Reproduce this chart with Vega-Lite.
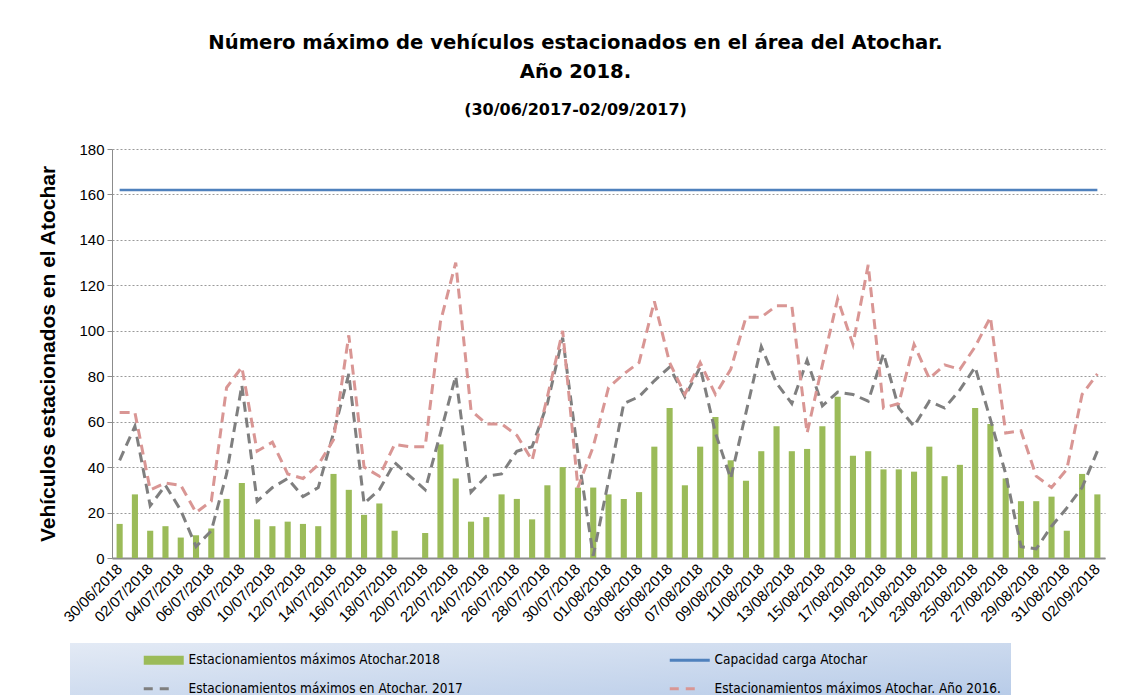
{
  "$schema": "https://vega.github.io/schema/vega-lite/v6.json",
  "width": 993,
  "height": 409,
  "autosize": {"type": "none"},
  "padding": {"left": 112, "top": 149, "right": 23, "bottom": 137},
  "background": "white",
  "config": {
    "view": {"stroke": null},
    "font": "Liberation Sans"
  },
  "title": {
    "text": ["Número máximo de vehículos estacionados  en el área del Atochar.", "Año 2018."],
    "subtitle": "(30/06/2017-02/09/2017)",
    "anchor": "middle",
    "dx": -33,
    "font": "DejaVu Sans",
    "fontSize": 19.6,
    "fontWeight": "bold",
    "lineHeight": 29,
    "color": "#000000",
    "subtitleFont": "DejaVu Sans",
    "subtitleFontSize": 16,
    "subtitleFontWeight": "bold",
    "subtitleColor": "#000000",
    "subtitlePadding": 19,
    "offset": 23
  },
  "data": {
    "values": [
      {"fecha": "30/06/2018", "v18": 15, "v17": 43, "v16": 64},
      {"fecha": "01/07/2018", "v18": 28, "v17": 58, "v16": 64},
      {"fecha": "02/07/2018", "v18": 12, "v17": 23, "v16": 30},
      {"fecha": "03/07/2018", "v18": 14, "v17": 32, "v16": 33},
      {"fecha": "04/07/2018", "v18": 9, "v17": 21, "v16": 32},
      {"fecha": "05/07/2018", "v18": 10, "v17": 5, "v16": 20},
      {"fecha": "06/07/2018", "v18": 13, "v17": 12, "v16": 25},
      {"fecha": "07/07/2018", "v18": 26, "v17": 37, "v16": 75},
      {"fecha": "08/07/2018", "v18": 33, "v17": 76, "v16": 84},
      {"fecha": "09/07/2018", "v18": 17, "v17": 25, "v16": 47},
      {"fecha": "10/07/2018", "v18": 14, "v17": 31, "v16": 51},
      {"fecha": "11/07/2018", "v18": 16, "v17": 35, "v16": 37},
      {"fecha": "12/07/2018", "v18": 15, "v17": 27, "v16": 35},
      {"fecha": "13/07/2018", "v18": 14, "v17": 31, "v16": 41},
      {"fecha": "14/07/2018", "v18": 37, "v17": 55, "v16": 52},
      {"fecha": "15/07/2018", "v18": 30, "v17": 81, "v16": 98},
      {"fecha": "16/07/2018", "v18": 19, "v17": 24, "v16": 40},
      {"fecha": "17/07/2018", "v18": 24, "v17": 30, "v16": 36},
      {"fecha": "18/07/2018", "v18": 12, "v17": 42, "v16": 50},
      {"fecha": "19/07/2018", "v18": null, "v17": 36, "v16": 49},
      {"fecha": "20/07/2018", "v18": 11, "v17": 30, "v16": 49},
      {"fecha": "21/07/2018", "v18": 50, "v17": 55, "v16": 104},
      {"fecha": "22/07/2018", "v18": 35, "v17": 80, "v16": 130},
      {"fecha": "23/07/2018", "v18": 16, "v17": 29, "v16": 65},
      {"fecha": "24/07/2018", "v18": 18, "v17": 36, "v16": 59},
      {"fecha": "25/07/2018", "v18": 28, "v17": 37, "v16": 59},
      {"fecha": "26/07/2018", "v18": 26, "v17": 47, "v16": 54},
      {"fecha": "27/07/2018", "v18": 17, "v17": 49, "v16": 43},
      {"fecha": "28/07/2018", "v18": 32, "v17": 68, "v16": 71},
      {"fecha": "29/07/2018", "v18": 40, "v17": 97, "v16": 100},
      {"fecha": "30/07/2018", "v18": 31, "v17": 46, "v16": 31},
      {"fecha": "31/07/2018", "v18": 31, "v17": 1, "v16": 49},
      {"fecha": "01/08/2018", "v18": 28, "v17": 34, "v16": 75},
      {"fecha": "02/08/2018", "v18": 26, "v17": 68, "v16": 81},
      {"fecha": "03/08/2018", "v18": 29, "v17": 71, "v16": 86},
      {"fecha": "04/08/2018", "v18": 49, "v17": 78, "v16": 113},
      {"fecha": "05/08/2018", "v18": 66, "v17": 84, "v16": 86},
      {"fecha": "06/08/2018", "v18": 32, "v17": 71, "v16": 72},
      {"fecha": "07/08/2018", "v18": 49, "v17": 84, "v16": 86},
      {"fecha": "08/08/2018", "v18": 62, "v17": 55, "v16": 72},
      {"fecha": "09/08/2018", "v18": 43, "v17": 35, "v16": 83},
      {"fecha": "10/08/2018", "v18": 34, "v17": 64, "v16": 106},
      {"fecha": "11/08/2018", "v18": 47, "v17": 93, "v16": 106},
      {"fecha": "12/08/2018", "v18": 58, "v17": 77, "v16": 111},
      {"fecha": "13/08/2018", "v18": 47, "v17": 68, "v16": 111},
      {"fecha": "14/08/2018", "v18": 48, "v17": 87, "v16": 55},
      {"fecha": "15/08/2018", "v18": 58, "v17": 67, "v16": 85},
      {"fecha": "16/08/2018", "v18": 71, "v17": 73, "v16": 114},
      {"fecha": "17/08/2018", "v18": 45, "v17": 72, "v16": 94},
      {"fecha": "18/08/2018", "v18": 47, "v17": 69, "v16": 129},
      {"fecha": "19/08/2018", "v18": 39, "v17": 90, "v16": 66},
      {"fecha": "20/08/2018", "v18": 39, "v17": 66, "v16": 68},
      {"fecha": "21/08/2018", "v18": 38, "v17": 58, "v16": 94},
      {"fecha": "22/08/2018", "v18": 49, "v17": 69, "v16": 79},
      {"fecha": "23/08/2018", "v18": 36, "v17": 66, "v16": 85},
      {"fecha": "24/08/2018", "v18": 41, "v17": 74, "v16": 83},
      {"fecha": "25/08/2018", "v18": 66, "v17": 84, "v16": 93},
      {"fecha": "26/08/2018", "v18": 59, "v17": 61, "v16": 106},
      {"fecha": "27/08/2018", "v18": 35, "v17": 37, "v16": 55},
      {"fecha": "28/08/2018", "v18": 25, "v17": 5, "v16": 56},
      {"fecha": "29/08/2018", "v18": 25, "v17": 4, "v16": 36},
      {"fecha": "30/08/2018", "v18": 27, "v17": 14, "v16": 31},
      {"fecha": "31/08/2018", "v18": 12, "v17": 22, "v16": 39},
      {"fecha": "01/09/2018", "v18": 37, "v17": 31, "v16": 72},
      {"fecha": "02/09/2018", "v18": 28, "v17": 47, "v16": 81}
    ]
  },
  "layer": [
    {
      "mark": {"type": "bar", "color": "#9BBB59"},
      "encoding": {
        "x": {
          "field": "fecha",
          "type": "ordinal",
          "sort": null,
          "title": null,
          "scale": {
            "domain": ["30/06/2018","01/07/2018","02/07/2018","03/07/2018","04/07/2018","05/07/2018","06/07/2018","07/07/2018","08/07/2018","09/07/2018","10/07/2018","11/07/2018","12/07/2018","13/07/2018","14/07/2018","15/07/2018","16/07/2018","17/07/2018","18/07/2018","19/07/2018","20/07/2018","21/07/2018","22/07/2018","23/07/2018","24/07/2018","25/07/2018","26/07/2018","27/07/2018","28/07/2018","29/07/2018","30/07/2018","31/07/2018","01/08/2018","02/08/2018","03/08/2018","04/08/2018","05/08/2018","06/08/2018","07/08/2018","08/08/2018","09/08/2018","10/08/2018","11/08/2018","12/08/2018","13/08/2018","14/08/2018","15/08/2018","16/08/2018","17/08/2018","18/08/2018","19/08/2018","20/08/2018","21/08/2018","22/08/2018","23/08/2018","24/08/2018","25/08/2018","26/08/2018","27/08/2018","28/08/2018","29/08/2018","30/08/2018","31/08/2018","01/09/2018","02/09/2018"],
            "paddingInner": 0.6,
            "paddingOuter": 0.3
          },
          "axis": {
            "values": ["30/06/2018","02/07/2018","04/07/2018","06/07/2018","08/07/2018","10/07/2018","12/07/2018","14/07/2018","16/07/2018","18/07/2018","20/07/2018","22/07/2018","24/07/2018","26/07/2018","28/07/2018","30/07/2018","01/08/2018","03/08/2018","05/08/2018","07/08/2018","09/08/2018","11/08/2018","13/08/2018","15/08/2018","17/08/2018","19/08/2018","21/08/2018","23/08/2018","25/08/2018","27/08/2018","29/08/2018","31/08/2018","02/09/2018"],
            "labelAngle": -45,
            "labelAlign": "right",
            "labelBaseline": "middle",
            "labelFont": "Liberation Sans",
            "labelFontSize": 15,
            "labelColor": "#000000",
            "labelPadding": 8,
            "ticks": false,
            "domainColor": "#8c8c8c",
            "domainWidth": 2,
            "grid": false
          }
        },
        "y": {
          "field": "v18",
          "type": "quantitative",
          "title": "Vehículos estacionados en el Atochar",
          "scale": {"domain": [0, 180], "nice": false},
          "axis": {
            "values": [0, 20, 40, 60, 80, 100, 120, 140, 160, 180],
            "labelFont": "Liberation Sans",
            "labelFontSize": 15,
            "labelColor": "#000000",
            "labelPadding": 3,
            "tickColor": "#8c8c8c",
            "tickSize": 5,
            "domainColor": "#8c8c8c",
            "gridColor": "#9a9a9a",
            "gridDash": [2, 2],
            "gridWidth": 1,
            "titleFont": "Liberation Sans",
            "titleFontSize": 21,
            "titleFontWeight": "bold",
            "titleColor": "#000000",
            "titlePadding": 20
          }
        },
        "color": {
          "datum": "Estacionamientos máximos Atochar.2018",
          "type": "nominal",
          "scale": {
            "domain": ["Estacionamientos máximos Atochar.2018", "Estacionamientos máximos en Atochar. 2017", "Capacidad carga Atochar", "Estacionamientos máximos Atochar. Año 2016."],
            "range": ["#9BBB59", "#7F7F7F", "#4F81BD", "#D99694"]
          },
          "legend": {
            "title": null,
            "orient": "none",
            "legendX": -42,
            "legendY": 494,
            "columns": 2,
            "columnPadding": 143,
            "rowPadding": 14,
            "padding": 10,
            "symbolOffset": 77,
            "fillColor": "#D7E2F1",
            "labelFont": "DejaVu Sans Condensed, Liberation Sans",
            "labelFontSize": 13.5,
            "labelColor": "#000000",
            "labelOffset": 18,
            "labelLimit": 400,
            "symbolSize": 1600,
            "encode": {
              "legend": {
                "update": {
                  "fill": {"value": {"gradient": "linear", "x1": 0, "y1": 0, "x2": 1, "y2": 1, "stops": [{"offset": 0, "color": "#E3EAF5"}, {"offset": 1, "color": "#B4C9E7"}]}}
                }
              },
              "symbols": {
                "update": {
                  "shape": {"signal": "datum.index == 0 ? 'M-1,-0.225L1,-0.225L1,0.225L-1,0.225Z' : 'stroke'"},
                  "fill": {"signal": "datum.index == 0 ? scale('color', datum.value) : 'transparent'"},
                  "stroke": {"signal": "scale('color', datum.value)"},
                  "strokeWidth": {"signal": "datum.index == 0 ? 0 : 3"},
                  "strokeDash": {"signal": "datum.index == 1 || datum.index == 3 ? [9, 7, 9, 100] : [1, 0]"},
                  "opacity": {"value": 1}
                }
              }
            }
          }
        }
      }
    },
    {
      "mark": {"type": "line", "strokeWidth": 2.5},
      "encoding": {
        "x": {"field": "fecha", "type": "ordinal", "sort": null},
        "y": {"datum": 162, "type": "quantitative"},
        "color": {"datum": "Capacidad carga Atochar", "type": "nominal"}
      }
    },
    {
      "mark": {"type": "line", "strokeWidth": 3, "strokeDash": [10, 6]},
      "encoding": {
        "x": {"field": "fecha", "type": "ordinal", "sort": null},
        "y": {"field": "v17", "type": "quantitative", "title": "Vehículos estacionados en el Atochar"},
        "color": {"datum": "Estacionamientos máximos en Atochar. 2017", "type": "nominal"}
      }
    },
    {
      "mark": {"type": "line", "strokeWidth": 3, "strokeDash": [10, 6]},
      "encoding": {
        "x": {"field": "fecha", "type": "ordinal", "sort": null},
        "y": {"field": "v16", "type": "quantitative", "title": "Vehículos estacionados en el Atochar"},
        "color": {"datum": "Estacionamientos máximos Atochar. Año 2016.", "type": "nominal"}
      }
    }
  ]
}
